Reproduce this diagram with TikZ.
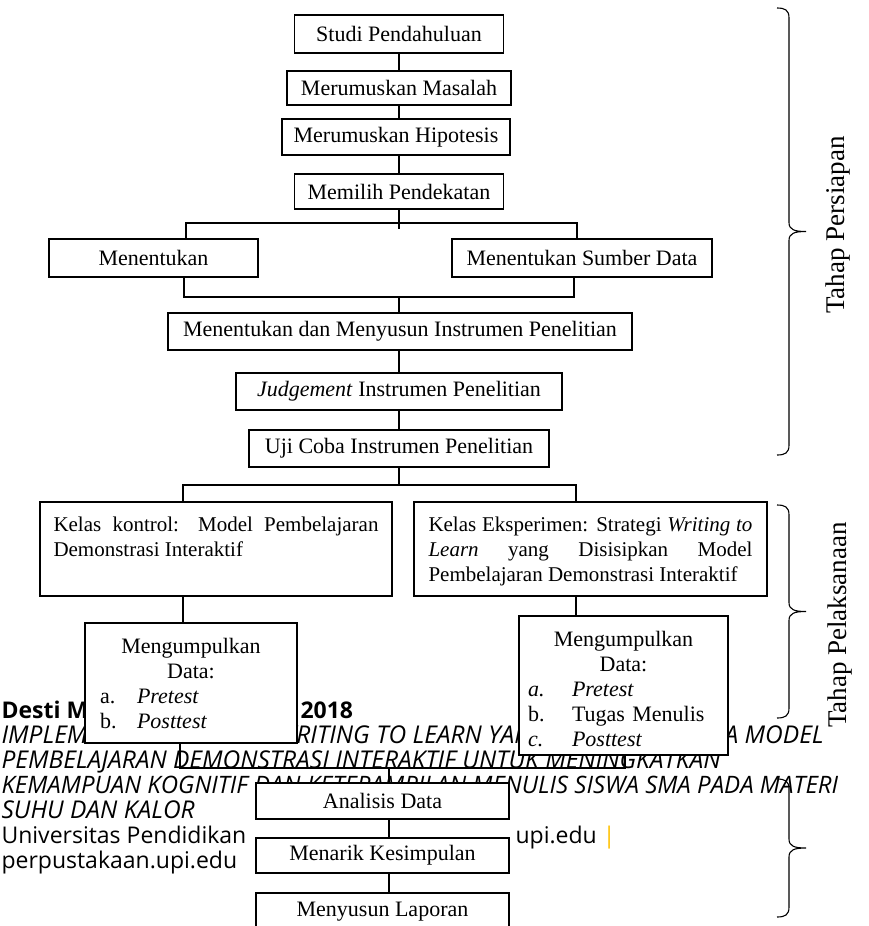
\documentclass[tikz,border=0pt]{standalone}
\usepackage{fontspec}
\setmainfont{Liberation Serif}
\newfontfamily\footerfont{Open Sans}
\usetikzlibrary{positioning}
\definecolor{upigold}{RGB}{255,192,0}
\hyphenpenalty=10000
\tolerance=9999
\newcommand{\datarow}[4]{\makebox[\linewidth][l]{\hspace*{#1}\makebox[#2][l]{#3}#4}}
% right brace of a stage: #1 top y, #2 bottom y
\newcommand{\stagebrace}[2]{%
  \pgfmathsetmacro{\bracemid}{(#1+#2)/2}
  \draw (777,#1) .. controls (785,#1) and (789,{#1+2}) .. (789,{#1+10})
        -- (789,{\bracemid-9}) .. controls (789,{\bracemid-2}) and (794,\bracemid) .. (806,\bracemid)
        (806,\bracemid) .. controls (794,\bracemid) and (789,{\bracemid+2}) .. (789,{\bracemid+9})
        -- (789,{#2-10}) .. controls (789,{#2-2}) and (785,#2) .. (777,#2);}

\begin{document}
\begin{tikzpicture}[
    x=1pt, y=-1pt,
    line width=1.1pt,
    font=\fontsize{22}{25}\selectfont,
    stepbox/.style={draw, fill=white, inner sep=0pt},
    boxtext/.style={inner sep=0pt, anchor=north},
    footer/.style={font=\footerfont\fontsize{23}{25}\selectfont, inner sep=0pt, anchor=base west},
    title/.style={footer, font=\footerfont\itshape\fontsize{24.5}{25}\selectfont},
    stage/.style={rotate=90, font=\fontsize{27}{31}\selectfont}
]
\useasboundingbox (0,0) rectangle (868,926);

    % --- page footer, lying under the chart ---
    \node[footer] (fname) at (1,718)   {\bfseries Desti M};
    \node[footer] (fyear) at (300,718) {\bfseries 2018};
    \node[title] (ftitA) at (1,743) {IMPLEMENTASI STRATEGI WRITING TO LEARN YANG DISISIPKAN PADA MODEL};
    \node[title] (ftitB) at (1,768) {PEMBELAJARAN DEMONSTRASI INTERAKTIF UNTUK MENINGKATKAN};
    \node[title, font=\footerfont\itshape\fontsize{24}{25}\selectfont] (ftitC) at (1,793)
        {KEMAMPUAN KOGNITIF DAN KETERAMPILAN MENULIS SISWA SMA PADA MATERI};
    \node[title] (ftitD) at (1,818) {SUHU DAN KALOR};
    \node[footer] (funiv) at (1,843)   {Universitas Pendidikan};
    \node[footer] (fupi)  at (515,843) {upi.edu \textcolor{upigold}{|}};
    \node[footer] (fperp) at (1,868)   {perpustakaan.upi.edu};

    % --- Tahap Persiapan ---
    \node[stepbox, minimum width=209, minimum height=38] (studi)      at (399,34)    {Studi Pendahuluan};
    \node[stepbox, minimum width=224, minimum height=34] (masalah)    at (399,88)    {Merumuskan Masalah};
    \node[stepbox, minimum width=228, minimum height=36] (hipotesis)  at (396,137)   {Merumuskan Hipotesis};
    \node[stepbox, minimum width=209, minimum height=35] (pendekatan) at (399,191.5) {Memilih Pendekatan};
    \node[stepbox, minimum width=209, minimum height=38] (menentukan) at (153.5,258) {Menentukan};
    \node[stepbox, minimum width=260, minimum height=38] (sumber)     at (582,258)   {Menentukan Sumber Data};
    \node[stepbox, minimum width=464, minimum height=37] (instrumen)  at (400,331.5) {Menentukan dan Menyusun Instrumen Penelitian};
    \node[stepbox, minimum width=326, minimum height=37] (judgement)  at (399,391.5) {\textit{Judgement} Instrumen Penelitian};
    \node[stepbox, minimum width=300, minimum height=37] (ujicoba)    at (399,448.5) {Uji Coba Instrumen Penelitian};

    % --- Tahap Pelaksanaan ---
    \node[stepbox, minimum width=352, minimum height=94] (kontrol)    at (216,549)   {};
    \node[boxtext, text width=325, align=justify, font=\fontsize{21}{25}\selectfont] (kontroltxt)
        at ([yshift=-14.5pt]kontrol.north)
        {Kelas kontrol: Model Pembelajaran Demonstrasi Interaktif};
    \node[stepbox, minimum width=353, minimum height=94] (eksperimen) at (590.5,549) {};
    \node[boxtext, text width=324, align=justify, font=\fontsize{21}{25}\selectfont] (eksperimentxt)
        at ([yshift=-14.5pt]eksperimen.north)
        {Kelas Eksperimen: Strategi \textit{Writing to}\linebreak \textit{Learn} yang Disisipkan Model\linebreak Pembelajaran Demonstrasi Interaktif};

    \node[stepbox, minimum width=212, minimum height=120] (kumpulA) at (191,683) {};
    \node[boxtext, text width=212, align=center] (kumpulAtxt) at ([yshift=-15pt]kumpulA.north)
        {Mengumpulkan\\ Data:\\
         \datarow{15pt}{37pt}{a.}{\textit{Pretest}}\\
         \datarow{15pt}{37pt}{b.}{\textit{Posttest}}};
    \node[stepbox, minimum width=209, minimum height=139] (kumpulB) at (623.5,685.5) {};
    \node[boxtext, text width=209, align=center] (kumpulBtxt) at ([yshift=-15pt]kumpulB.north)
        {Mengumpulkan\\ Data:\\
         \datarow{9pt}{44pt}{\textit{a.}}{\textit{Pretest}}\\
         \datarow{9pt}{44pt}{b.}{Tugas Menulis}\\
         \datarow{9pt}{44pt}{\textit{c.}}{\textit{Posttest}}};

    % --- last stage ---
    \node[stepbox, minimum width=253, minimum height=36] (analisis)   at (382.5,801)   {Analisis Data};
    \node[stepbox, minimum width=253, minimum height=35] (kesimpulan) at (382.5,855.5) {Menarik Kesimpulan};
    \node[stepbox, minimum width=253, minimum height=38] (laporan)    at (382.5,912)   {Menyusun Laporan};

    % --- connectors ---
    \draw (studi) -- (masalah);
    \draw (masalah) -- (masalah.south |- hipotesis.north);
    \draw (masalah.south |- hipotesis.south) -- (pendekatan);

    \coordinate (splitA)  at (399,223);
    \coordinate (splitAL) at (186,223);
    \coordinate (splitAR) at (577,223);
    \draw (pendekatan) -- ([yshift=-6pt]splitA);
    \draw (splitAL |- menentukan.north) -- (splitAL) -- (splitAR) -- (splitAR |- sumber.north);

    \coordinate (joinAL) at (184,297);
    \coordinate (joinAR) at (574,297);
    \draw (joinAL |- menentukan.south) -- (joinAL) -- (joinAR) -- (joinAR |- sumber.south);
    \draw (studi.south |- joinAL) -- (studi.south |- instrumen.north);
    \draw (instrumen.south -| judgement.north) -- (judgement);
    \draw (judgement) -- (ujicoba);

    \coordinate (splitBL) at (183,485);
    \coordinate (splitBR) at (576,485);
    \draw (ujicoba) -- (ujicoba.south |- splitBL);
    \draw (splitBL |- kontrol.north) -- (splitBL) -- (splitBR) -- (splitBR |- eksperimen.north);
    \draw (splitBL |- kontrol.south) -- (splitBL |- kumpulA.north);
    \draw (splitBR |- eksperimen.south) -- (splitBR |- kumpulB.north);

    \coordinate (joinBL) at (180,768);
    \coordinate (joinBR) at (625,768);
    \coordinate (joinB)  at (389,768);
    \draw (joinBL |- kumpulA.south) -- (joinBL) -- (joinBR) -- (joinBR |- kumpulB.south);
    \draw (joinB) -- (joinB |- analisis.north);
    \draw (joinB |- analisis.south) -- (joinB |- kesimpulan.north);
    \draw (joinB |- kesimpulan.south) -- (joinB |- laporan.north);

    % --- stage braces ---
    \stagebrace{8}{455}
    \stagebrace{505}{718}
    \stagebrace{779}{917}
    \node[stage] (prepLabel) at (838,225) {Tahap Persiapan};
    \node[stage] (execLabel) at (840,625) {Tahap Pelaksanaan};

\end{tikzpicture}
\end{document}
